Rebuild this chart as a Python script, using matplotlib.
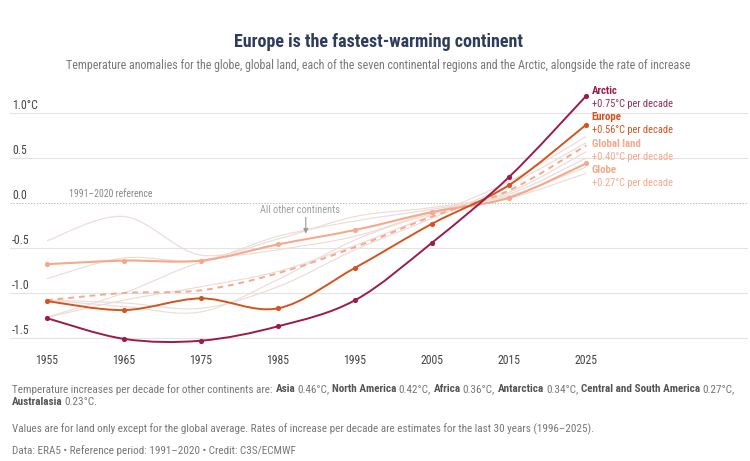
import matplotlib
matplotlib.use("Agg")
import matplotlib.pyplot as plt
from matplotlib import font_manager
from matplotlib.path import Path
from matplotlib.patches import PathPatch

# decade mid-years and anomalies (degC, vs 1991-2020)
years = [1955, 1965, 1975, 1985, 1995, 2005, 2015, 2025]
arctic = [-1.28, -1.51, -1.53, -1.37, -1.08, -0.44, 0.29, 1.19]
europe = [-1.09, -1.19, -1.06, -1.17, -0.72, -0.23, 0.20, 0.87]
global_land = [-1.08, -1.00, -0.97, -0.78, -0.49, -0.15, 0.14, 0.64]
globe = [-0.68, -0.64, -0.64, -0.46, -0.30, -0.10, 0.06, 0.44]

asia = [-1.27, -1.08, -0.93, -0.76, -0.47, -0.13, 0.24, 0.74]
north_america = [-1.08, -1.11, -1.17, -0.93, -0.52, -0.17, 0.20, 0.67]
africa = [-1.27, -1.00, -0.66, -0.52, -0.37, -0.10, 0.12, 0.57]
antarctica = [-0.42, -0.15, -0.58, -0.40, -0.15, -0.05, 0.10, 0.50]
central_south_america = [-0.84, -0.61, -0.64, -0.37, -0.20, -0.07, 0.08, 0.40]
australasia = [-1.08, -1.15, -1.21, -0.85, -0.41, -0.12, 0.05, 0.33]

main_names = ["Arctic", "Europe", "Global land", "Globe"]
main_rates = ["+0.75°C per decade", "+0.56°C per decade",
              "+0.40°C per decade", "+0.27°C per decade"]
other_names = ["Asia", "North America", "Africa", "Antarctica",
               "Central and South America", "Australasia"]
other_rates = ["0.46°C", "0.42°C", "0.36°C", "0.34°C", "0.27°C", "0.23°C"]

y_ticks = [-1.5, -1.0, -0.5, 0.0, 0.5, 1.0]
y_tick_labels = ["-1.5", "-1.0", "-0.5", "0.0", "0.5", "1.0°C"]

C_ARCTIC = "#9b1b4b"
C_EUROPE = "#d2541f"
C_LIGHT = "#f5a98b"
C_FAINT = "#ecdcd8"
C_TEXT = "#444444"
C_GREY = "#777777"

available = {f.name for f in font_manager.fontManager.ttflist}
FONT = "Roboto"
for cand in ["Roboto Condensed", "Liberation Sans Narrow", "Roboto"]:
    if cand in available:
        FONT = cand
        break
plt.rcParams["font.family"] = [FONT, "DejaVu Sans"]


def smooth_line(ax, xs, ys, **kw):
    # catmull-rom through the points, drawn as cubic bezier segments
    pts = list(zip(xs, ys))
    verts = [pts[0]]
    codes = [Path.MOVETO]
    n = len(pts)
    for i in range(n - 1):
        p0 = pts[max(i - 1, 0)]
        p1 = pts[i]
        p2 = pts[i + 1]
        p3 = pts[min(i + 2, n - 1)]
        c1 = (p1[0] + (p2[0] - p0[0]) / 6, p1[1] + (p2[1] - p0[1]) / 6)
        c2 = (p2[0] - (p3[0] - p1[0]) / 6, p2[1] - (p3[1] - p1[1]) / 6)
        verts += [c1, c2, p2]
        codes += [Path.CURVE4] * 3
    patch = PathPatch(Path(verts, codes), fill=False, **kw)
    ax.add_patch(patch)
    return patch


fig = plt.figure(figsize=(7.5, 4.61), dpi=100)
ax = fig.add_axes([0.0133, 0.2434, 0.984, 0.5603])
ax.set_xlim(1950.2, 2046)
ax.set_ylim(-1.62, 1.25)
for s in ax.spines.values():
    s.set_visible(False)
ax.set_yticks([])
ax.set_xticks(years)
ax.set_xticklabels([str(y) for y in years])
ax.tick_params(axis="x", length=0, pad=4, labelsize=8.5, labelcolor=C_TEXT)

# gridlines + y labels
for v, lab in zip(y_ticks, y_tick_labels):
    if v == 0.0:
        ax.axhline(v, color="#bbbbbb", lw=0.7, ls=(0, (1.5, 1.5)), zorder=1)
    else:
        ax.axhline(v, color="#e3e3e3", lw=0.8, zorder=1)
    ax.annotate(lab, (0.003, v), xycoords=("axes fraction", "data"),
                xytext=(0, 1), textcoords="offset points",
                ha="left", va="bottom", fontsize=8.5, color=C_TEXT)

for series in [asia, north_america, africa, antarctica,
               central_south_america, australasia]:
    smooth_line(ax, years, series, edgecolor=C_FAINT, lw=0.85, zorder=2)

smooth_line(ax, years, global_land, edgecolor=C_LIGHT, lw=1.4,
            ls=(0, (3, 2.5)), zorder=3)
smooth_line(ax, years, globe, edgecolor=C_LIGHT, lw=1.5, zorder=4)
ax.scatter(years, globe, s=14, color=C_LIGHT, zorder=5, linewidths=0)
smooth_line(ax, years, europe, edgecolor=C_EUROPE, lw=1.4, zorder=6)
ax.scatter(years, europe, s=14, color=C_EUROPE, zorder=7, linewidths=0)
smooth_line(ax, years, arctic, edgecolor=C_ARCTIC, lw=1.4, zorder=8)
ax.scatter(years, arctic, s=14, color=C_ARCTIC, zorder=9, linewidths=0)

# end labels
label_y = [1.244, 0.956, 0.656, 0.367]
name_colors = [C_ARCTIC, C_EUROPE, C_LIGHT, C_LIGHT]
rate_colors = ["#8e2e5c", C_EUROPE, C_LIGHT, C_LIGHT]
for name, rate, ly, nc, rc in zip(main_names, main_rates, label_y,
                                  name_colors, rate_colors):
    ax.annotate(name, (years[-1], ly), xytext=(4, 0),
                textcoords="offset points", ha="left", va="center",
                fontsize=7.8, fontweight="bold", color=nc, zorder=10)
    ax.annotate(rate, (years[-1], ly), xytext=(4, -9.5),
                textcoords="offset points", ha="left", va="center",
                fontsize=7.5, color=rc, zorder=10)

ax.annotate("1991–2020 reference", (1957.9, 0.0), xytext=(0, 3),
            textcoords="offset points", ha="left", va="bottom",
            fontsize=7, color="#888888")
ax.text(1987.8, -0.08, "All other continents", ha="center", va="center",
        fontsize=7.5, color="#a0a0a0")
ax.annotate("", xy=(1988.6, -0.34), xytext=(1988.6, -0.16),
            arrowprops=dict(arrowstyle="-|>", color="#999999", lw=0.8,
                            mutation_scale=7, shrinkA=0, shrinkB=0))

fig.text(0.504, 0.909, "Europe is the fastest-warming continent",
         ha="center", va="center", fontsize=13, fontweight="bold",
         color="#2e3d5c")
fig.text(0.504, 0.859,
         "Temperature anomalies for the globe, global land, each of the "
         "seven continental regions and the Arctic, alongside the rate "
         "of increase", ha="center", va="center", fontsize=8.55,
         color=C_GREY)

# footer with bold continent names
renderer = fig.canvas.get_renderer()
FOOT = 8.05


def run_text(x, y, pieces, size=FOOT):
    # pieces carry no edge spaces; gaps (px) are added explicitly
    for txt, bold in pieces:
        t = fig.text(x, y, txt, ha="left", va="center", fontsize=size,
                     color="#555555" if bold else C_GREY,
                     fontweight="bold" if bold else "normal")
        bb = t.get_window_extent(renderer)
        gap = 2.0 if bold else 2.8
        x = (bb.x1 + gap) / fig.bbox.width
    return x


pieces = [("Temperature increases per decade for other continents are:",
           False)]
for nm, rt in zip(other_names[:-1], other_rates[:-1]):
    pieces += [(nm, True), (rt + ",", False)]
run_text(0.016, 0.156, pieces)
run_text(0.016, 0.128, [(other_names[-1], True),
                        (other_rates[-1] + ".", False)])
fig.text(0.016, 0.069,
         "Values are for land only except for the global average. Rates of "
         "increase per decade are estimates for the last 30 years "
         "(1996–2025).", ha="left", va="center", fontsize=FOOT, color=C_GREY)
fig.text(0.016, 0.022,
         "Data: ERA5 • Reference period: 1991–2020 • Credit: C3S/ECMWF",
         ha="left", va="center", fontsize=FOOT, color=C_GREY)

fig.savefig("out.png", dpi=100)
